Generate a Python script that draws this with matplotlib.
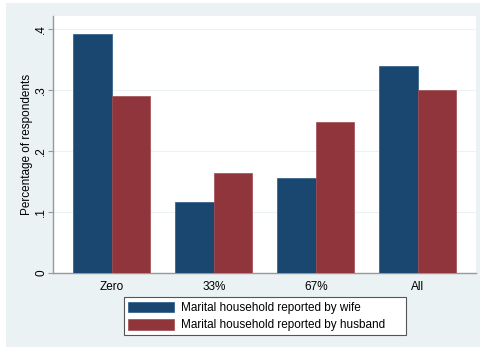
import numpy as np
import matplotlib.pyplot as plt
from matplotlib.patches import Rectangle

plt.rcParams['font.family'] = ['Liberation Sans', 'DejaVu Sans']

groups = ['Zero', '33%', '67%', 'All']
wife = [0.392, 0.116, 0.156, 0.339]
husband = [0.290, 0.164, 0.248, 0.300]
yticks = [0, 0.1, 0.2, 0.3, 0.4]
ytick_labels = ['0', '.1', '.2', '.3', '.4']

navy = '#1a476f'
maroon = '#90353b'
bg = '#eaf2f3'

fig = plt.figure(figsize=(4.84, 3.49), dpi=100, facecolor='white')
W, H = 484, 349
# Stata-style graph region behind everything
fig.patches.append(Rectangle((6 / W, 2 / H), 474 / W, 344 / H, transform=fig.transFigure,
                             facecolor=bg, edgecolor='none', zorder=-10))

ax = fig.add_axes([53 / W, 1 - 273 / H, 423 / W, 257 / H])
ax.set_facecolor('white')

x = np.arange(len(groups))
w = 0.377
ax.bar(x - w / 2, wife, w, color=navy, edgecolor='#2a5a85', linewidth=0.5,
       label='Marital household reported by wife', zorder=3)
ax.bar(x + w / 2, husband, w, color=maroon, edgecolor='#a04a50', linewidth=0.5,
       label='Marital household reported by husband', zorder=3)

ax.set_xlim(-0.578, 3.57)
ax.set_ylim(0, 0.421)
ax.set_xticks(x)
ax.set_xticklabels(groups, fontsize=8.5)
ax.set_yticks(yticks)
ax.set_yticklabels(ytick_labels, fontsize=8.5, rotation=90, va='center')
ax.set_ylabel('Percentage of respondents', fontsize=8.5)
ax.yaxis.set_label_coords(-20 / 423, 0.5)
ax.grid(axis='y', color=bg, linewidth=0.8, zorder=0)

for side in ['top', 'right']:
    ax.spines[side].set_visible(False)
for side in ['left', 'bottom']:
    ax.spines[side].set_color('#999999')
    ax.spines[side].set_linewidth(1.0)
ax.tick_params(axis='x', length=0, pad=6)
ax.tick_params(axis='y', length=3.6, color='#999999', pad=0.5)

# legend: white box with the Stata-like wide right margin
fig.patches.append(Rectangle((124 / W, 1 - 335 / H), 282 / W, 38 / H, transform=fig.transFigure,
                             facecolor='white', edgecolor='#555555', linewidth=0.8, zorder=4))
handles, labels = ax.get_legend_handles_labels()
leg = fig.legend(handles, labels, loc='center left', bbox_to_anchor=(124 / W, 1 - 316.5 / H),
                 fontsize=8.5, frameon=False, handlelength=3.9, handleheight=1.0,
                 borderpad=0.35, labelspacing=0.45, handletextpad=0.6, borderaxespad=0)
leg.set_zorder(5)

fig.savefig('out.png', dpi=100, facecolor='white')
